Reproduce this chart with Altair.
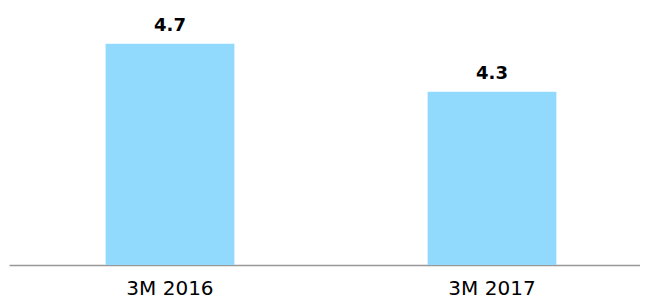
import altair as alt
import pandas as pd

categories = ["3M 2016", "3M 2017"]
values = [4.7, 4.3]
labels = ["4.7", "4.3"]

df = pd.DataFrame({"period": categories, "value": values, "label": labels})

y_min = 2.85
y_max = 5.0

x_enc = alt.X(
    "period:N",
    sort=categories,
    scale=alt.Scale(paddingInner=0.6, paddingOuter=0.2798, align=0.536),
    axis=alt.Axis(
        title=None,
        labelAngle=0,
        ticks=False,
        labelPadding=13,
        labelFontSize=20,
        labelFont="DejaVu Sans",
        labelColor="#000000",
        domainColor="#999999",
        domainWidth=1.5,
        grid=False,
    ),
)
y_scale = alt.Scale(domain=[y_min, y_max], zero=False, nice=False)

bars = alt.Chart(df).mark_bar(color="#92DAFD").encode(
    x=x_enc,
    y=alt.Y("value:Q", scale=y_scale, axis=None),
    y2=alt.datum(y_min),
)

text = alt.Chart(df).mark_text(
    baseline="alphabetic",
    dy=-13,
    fontSize=18,
    fontWeight="bold",
    font="DejaVu Sans",
    color="#000000",
).encode(
    x=alt.X("period:N", sort=categories),
    y=alt.Y("value:Q", scale=y_scale),
    text="label:N",
)

chart = (
    alt.layer(bars, text)
    .properties(width=631, height=257, padding={"left": 1, "top": 0, "right": 0, "bottom": 0})
    .configure_view(stroke=None)
)

chart.save("out.html", embed_options={"renderer": "svg", "actions": False})
